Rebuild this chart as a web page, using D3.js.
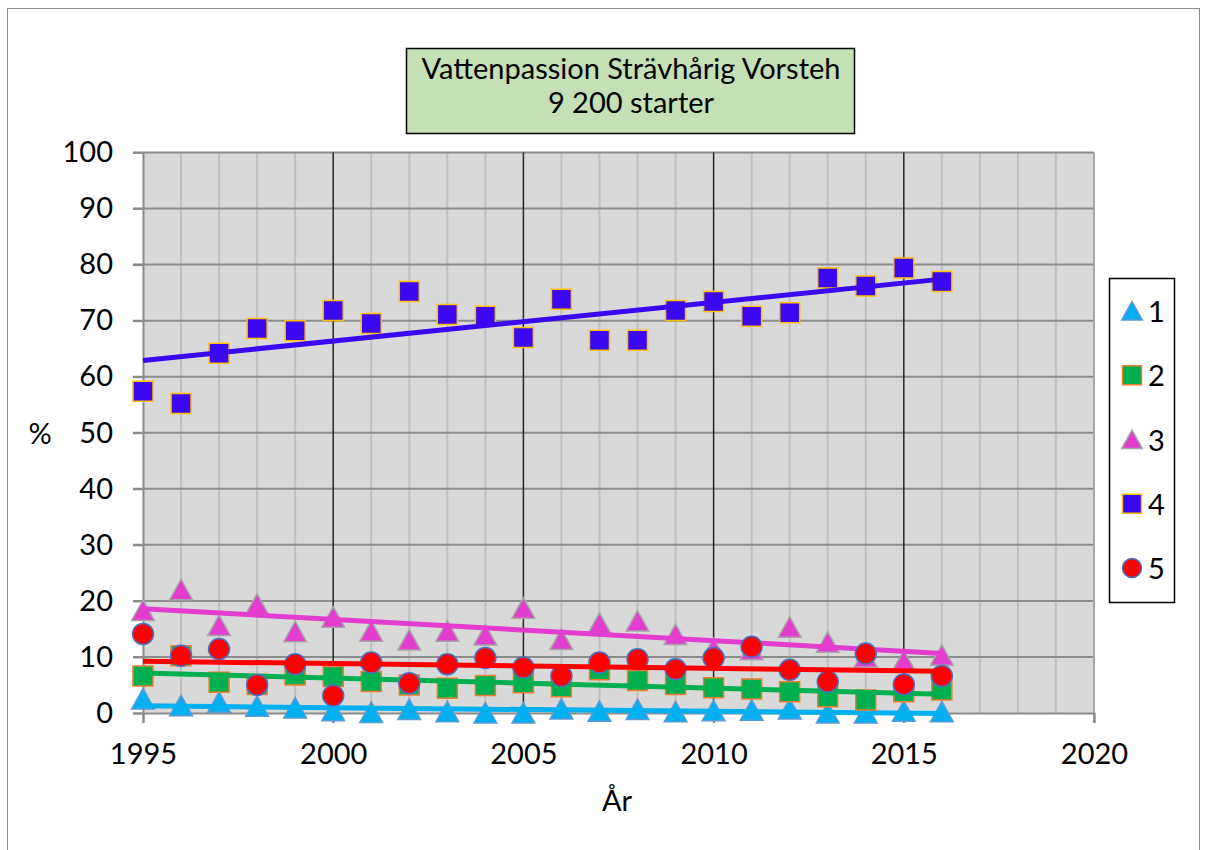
<!DOCTYPE html>
<html>
<head>
<meta charset="utf-8">
<script src="https://cdn.jsdelivr.net/npm/d3@7"></script>
<style>
  body { margin: 0; background: #fff; }
  svg text { font-family: Lato, "Open Sans", sans-serif; fill: #000; }
</style>
</head>
<body>
<script>
/* ===== data ===== */
var years = [1995, 1996, 1997, 1998, 1999, 2000, 2001, 2002, 2003, 2004, 2005,
             2006, 2007, 2008, 2009, 2010, 2011, 2012, 2013, 2014, 2015, 2016];
var pris1 = [2.5, 1.3, 1.9, 1.2, 0.9, 0.4, 0.1, 0.6, 0.2, 0.0, 0.0,
             0.7, 0.3, 0.6, 0.2, 0.4, 0.5, 0.7, 0.0, 0.0, 0.3, 0.2];
var pris2 = [6.6, 10.2, 5.5, 5.1, 6.8, 6.5, 5.6, 5.0, 4.4, 4.9, 5.4,
             4.7, 7.7, 5.8, 5.1, 4.5, 4.3, 3.8, 2.9, 2.3, 3.8, 4.1];
var pris3 = [18.3, 22.0, 15.6, 19.4, 14.5, 17.1, 14.6, 13.0, 14.6, 13.9, 18.7,
             13.1, 16.0, 16.4, 14.0, 11.5, 11.3, 15.3, 12.6, 10.0, 9.3, 10.3];
var pris4 = [57.4, 55.2, 64.2, 68.6, 68.2, 71.8, 69.5, 75.2, 71.1, 70.8, 67.0,
             73.8, 66.5, 66.5, 71.8, 73.4, 70.8, 71.4, 77.6, 76.2, 79.4, 77.0];
var pris5 = [14.1, 10.2, 11.4, 5.0, 8.7, 3.1, 9.0, 5.3, 8.7, 9.8, 8.1,
             6.6, 9.0, 9.6, 7.8, 9.8, 11.8, 7.7, 5.6, 10.6, 5.1, 6.6];
var seriesNames = ["1", "2", "3", "4", "5"];
var xTicks = [1995, 2000, 2005, 2010, 2015, 2020];
var yTicks = [0, 10, 20, 30, 40, 50, 60, 70, 80, 90, 100];
var titleLines = ["Vattenpassion Strävhårig Vorsteh", "9 200 starter"];

/* ===== styles ===== */
var w = 1208, h = 850;
var plot = { left: 143, right: 1094, top: 152.5, bottom: 713 };
var fontSize = "29px";
var styles = [
  { shape: "triangle", fill: "#00b0f0", stroke: "#5b9bd5", line: "#00b0f0" },
  { shape: "square",   fill: "#00b050", stroke: "#ed7d31", line: "#00b050" },
  { shape: "triangle", fill: "#e23dcf", stroke: "#a5a5a5", line: "#e23dcf" },
  { shape: "square",   fill: "#3b08f2", stroke: "#ffc000", line: "#3b08f2" },
  { shape: "circle",   fill: "#ff0000", stroke: "#4472c4", line: "#ff0000" }
];
var allSeries = [pris1, pris2, pris3, pris4, pris5];

var svg = d3.select("body").append("svg")
    .attr("width", w)
    .attr("height", h);

// outer chart border
svg.append("rect")
    .attr("x", 7.5).attr("y", 8.5)
    .attr("width", 1192).attr("height", 870)
    .attr("fill", "#fff")
    .attr("stroke", "#8c8c8c")
    .attr("stroke-width", 1);

var xScale = d3.scaleLinear().domain([1995, 2020]).range([plot.left, plot.right]);
var yScale = d3.scaleLinear().domain([0, 100]).range([plot.bottom, plot.top]);

// plot background
svg.append("rect")
    .attr("x", xScale(1995)).attr("y", yScale(100))
    .attr("width", xScale(2020) - xScale(1995))
    .attr("height", yScale(0) - yScale(100))
    .attr("fill", "#d9d9d9");

// minor vertical grid (every year)
svg.append("g").selectAll("line")
    .data(d3.range(1996, 2020).filter(function (d) { return d % 5 != 0; }))
    .join("line")
    .attr("x1", function (d) { return xScale(d); })
    .attr("x2", function (d) { return xScale(d); })
    .attr("y1", yScale(100)).attr("y2", yScale(0))
    .attr("stroke", "#bfbfbf")
    .attr("stroke-width", 2);

// horizontal grid
svg.append("g").selectAll("line")
    .data(yTicks.slice(1))
    .join("line")
    .attr("x1", plot.left - 10).attr("x2", plot.right)
    .attr("y1", function (d) { return yScale(d); })
    .attr("y2", function (d) { return yScale(d); })
    .attr("stroke", "#8c8c8c")
    .attr("stroke-width", 2);

// major vertical grid
svg.append("g").selectAll("line")
    .data(xTicks.slice(1))
    .join("line")
    .attr("x1", function (d) { return xScale(d); })
    .attr("x2", function (d) { return xScale(d); })
    .attr("y1", yScale(100)).attr("y2", yScale(0) + 10)
    .attr("stroke", function (d) { return d == 2020 ? "#a6a6a6" : "#262626"; })
    .attr("stroke-width", function (d) { return d == 2020 ? 2 : 1.5; });

// axes
var xAxis = d3.axisBottom(xScale).tickValues(xTicks).tickSize(10).tickPadding(20)
    .tickFormat(d3.format("d"));
var yAxis = d3.axisLeft(yScale).tickValues(yTicks).tickSize(10).tickPadding(20);

var gx = svg.append("g")
    .attr("transform", "translate(0," + yScale(0) + ")")
    .call(xAxis);
var gy = svg.append("g")
    .attr("transform", "translate(" + xScale(1995) + ",0)")
    .call(yAxis);
[gx, gy].forEach(function (g) {
  g.select(".domain").attr("stroke", "#8c8c8c").attr("stroke-width", 2);
  g.selectAll(".tick line").attr("stroke", "#8c8c8c").attr("stroke-width", 2);
  g.selectAll(".tick text").attr("font-size", fontSize).attr("fill", "#000")
      .style("font-family", "Lato, sans-serif");
});
gx.selectAll(".tick text").attr("dy", "0.72em");

// axis titles
svg.append("text")
    .attr("x", 40).attr("y", 444)
    .attr("text-anchor", "middle")
    .attr("font-size", fontSize)
    .text("%");
svg.append("text")
    .attr("x", 617).attr("y", 811)
    .attr("text-anchor", "middle")
    .attr("font-size", fontSize)
    .text("År");

/* ===== marker shapes ===== */
var triangleType = {
  draw: function (ctx, size) {
    var r = Math.sqrt(size) / 2;
    ctx.moveTo(0, -r);
    ctx.lineTo(r * 1.08, r * 0.95);
    ctx.lineTo(-r * 1.08, r * 0.95);
    ctx.closePath();
  }
};
function symbolFor(shape) {
  if (shape == "triangle") return d3.symbol().type(triangleType).size(21 * 21);
  if (shape == "square") return d3.symbol().type(d3.symbolSquare).size(20 * 20);
  return d3.symbol().type(d3.symbolCircle).size(Math.PI * 10.5 * 10.5);
}

// least-squares trend line (Excel linear trendline)
function trend(vals) {
  var n = vals.length;
  var mx = d3.mean(years), my = d3.mean(vals);
  var sxy = d3.sum(years, function (x, i) { return (x - mx) * (vals[i] - my); });
  var sxx = d3.sum(years, function (x) { return (x - mx) * (x - mx); });
  var b = sxy / sxx, a = my - b * mx;
  return [years[0], years[n - 1]].map(function (x) { return [x, a + b * x]; });
}

var line = d3.line()
    .x(function (d) { return xScale(d[0]); })
    .y(function (d) { return yScale(d[1]); });

allSeries.forEach(function (vals, s) {
  var st = styles[s];
  var sym = symbolFor(st.shape);
  svg.append("g").selectAll("path")
      .data(vals)
      .join("path")
      .attr("transform", function (d, i) {
        return "translate(" + xScale(years[i]) + "," + yScale(d) + ")";
      })
      .attr("d", sym)
      .attr("fill", st.fill)
      .attr("stroke", st.stroke)
      .attr("stroke-width", 1.5);
  svg.append("path")
      .datum(trend(vals))
      .attr("d", line)
      .attr("fill", "none")
      .attr("stroke", st.line)
      .attr("stroke-width", 5);
});

/* ===== title box ===== */
svg.append("rect")
    .attr("x", 406.5).attr("y", 48.5)
    .attr("width", 448).attr("height", 85)
    .attr("fill", "#c5e0b4")
    .attr("stroke", "#000")
    .attr("stroke-width", 1.5);
svg.append("g").selectAll("text")
    .data(titleLines)
    .join("text")
    .attr("x", 631)
    .attr("y", function (d, i) { return 79 + i * 34; })
    .attr("text-anchor", "middle")
    .attr("font-size", fontSize)
    .text(function (d) { return d; });

/* ===== legend ===== */
var legend = svg.append("g");
legend.append("rect")
    .attr("x", 1109.5).attr("y", 278.5)
    .attr("width", 65).attr("height", 324)
    .attr("fill", "#fff")
    .attr("stroke", "#000")
    .attr("stroke-width", 1.5);
var legendY = d3.scaleLinear().domain([0, 4]).range([311, 568]);
var entries = legend.selectAll("g.entry")
    .data(seriesNames)
    .join("g")
    .attr("class", "entry")
    .attr("transform", function (d, i) { return "translate(1132," + legendY(i) + ")"; });
entries.append("path")
    .attr("d", function (d, i) { return symbolFor(styles[i].shape).size(styles[i].shape == "circle" ? Math.PI * 9.5 * 9.5 : 19 * 19)(); })
    .attr("fill", function (d, i) { return styles[i].fill; })
    .attr("stroke", function (d, i) { return styles[i].stroke; })
    .attr("stroke-width", 1.5);
entries.append("text")
    .attr("x", 16)
    .attr("y", 11)
    .attr("font-size", fontSize)
    .text(function (d) { return d; });
</script>
</body>
</html>
